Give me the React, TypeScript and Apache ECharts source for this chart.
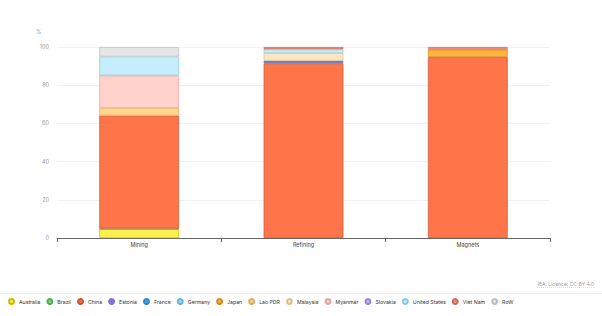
import React, { useEffect, useRef } from "react";
import * as echarts from "echarts";

// Share of global rare earth supply by stage, per cent
const categories = ["Mining", "Refining", "Magnets"];
const yTicks = [0, 20, 40, 60, 80, 100];

const australia = [4.6, 0, 0];
const brazil = [0.3, 0, 0];
const china = [59.2, 91.2, 94.8];
const estonia = [0, 1.6, 0];
const france = [0, 0, 0];
const germany = [0, 0, 0];
const japan = [0, 0, 3.8];
const laoPdr = [4.0, 0, 0];
const malaysia = [0, 4.0, 0];
const myanmar = [17.0, 0, 0];
const slovakia = [0, 0, 0];
const unitedStates = [9.9, 2.0, 0];
const vietNam = [0, 1.2, 1.4];
const row = [5.0, 0, 0];

const seriesNames = [
  "Australia", "Brazil", "China", "Estonia", "France", "Germany", "Japan",
  "Lao PDR", "Malaysia", "Myanmar", "Slovakia", "United States", "Viet Nam", "RoW",
];
const seriesValues = [
  australia, brazil, china, estonia, france, germany, japan,
  laoPdr, malaysia, myanmar, slovakia, unitedStates, vietNam, row,
];
const fills = [
  "#fff04f", "#7dd87f", "#ff7448", "#6f80c6", "#45a9e6", "#9fdcf5", "#ffb43f",
  "#ffd690", "#ffe7c2", "#ffd2cb", "#c4b5f0", "#c4eefb", "#f2907f", "#e6e6e6",
];
const borders = [
  "#c9b800", "#4caf50", "#c85530", "#8a6fd6", "#2a86c0", "#5fb6d8", "#d18a20",
  "#d8aa60", "#d9be90", "#e0a59c", "#9885d0", "#8cc8dc", "#d06a5a", "#bdbdbd",
];

const FONT = "Inter, 'Noto Sans', sans-serif";

export default function App() {
  const ref = useRef<HTMLDivElement>(null);

  useEffect(() => {
    if (!ref.current) return;
    const chart = echarts.init(ref.current, null, { renderer: "svg" });
    chart.setOption({
      animation: false,
      backgroundColor: "#ffffff",
      grid: { left: 57, right: 52, top: 47, bottom: 78 },
      xAxis: {
        type: "category",
        data: categories,
        axisLine: { lineStyle: { color: "#666", width: 1 } },
        axisTick: { show: true, length: 4, lineStyle: { color: "#666" } },
        axisLabel: { color: "#444", fontSize: 5.5, fontFamily: FONT, margin: 4 },
      },
      yAxis: {
        type: "value",
        min: 0,
        max: yTicks[yTicks.length - 1],
        interval: yTicks[1] - yTicks[0],
        axisLine: { show: false },
        axisTick: { show: false },
        axisLabel: { color: "#999", fontSize: 5.5, fontFamily: FONT, margin: 8 },
        splitLine: { lineStyle: { color: "#f1f1f1", width: 1 } },
      },
      legend: {
        bottom: 6,
        left: 3,
        width: 596,
        icon: "circle",
        itemWidth: 5,
        itemHeight: 5,
        itemGap: 6,
        textStyle: { color: "#333", fontSize: 5.2, fontFamily: FONT },
        data: seriesNames,
      },
      graphic: [
        {
          type: "text",
          left: 36,
          top: 29,
          style: { text: "%", fill: "#999", fontSize: 5.5, fontFamily: FONT },
        },
        {
          type: "text",
          right: 8,
          top: 281,
          style: { text: "IEA. Licence: CC BY 4.0", fill: "#999", fontSize: 5, fontFamily: FONT },
        },
        {
          type: "line",
          shape: { x1: 537, y1: 287.5, x2: 594, y2: 287.5 },
          style: { stroke: "#bbb", lineWidth: 0.5, lineDash: [1, 1] },
        },
        {
          type: "line",
          shape: { x1: 0, y1: 293.5, x2: 602, y2: 293.5 },
          style: { stroke: "#f0f0f0", lineWidth: 1 },
        },
      ],
      series: seriesNames.map((name, i) => ({
        name,
        type: "bar",
        stack: "share",
        barWidth: "48.5%",
        // empty stages are left out so no zero-height outline is drawn
        data: seriesValues[i].map((v) => (v > 0 ? v : null)),
        itemStyle: { color: fills[i], borderColor: borders[i], borderWidth: 0.7 },
        emphasis: { disabled: true },
      })),
    });
    return () => chart.dispose();
  }, []);

  return (
    <div
      ref={ref}
      style={{ position: "fixed", left: 0, top: 0, width: 602, height: 316 }}
    />
  );
}
